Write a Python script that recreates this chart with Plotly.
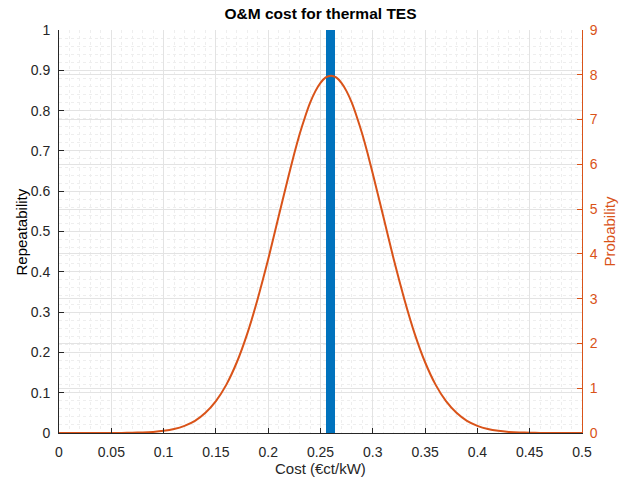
import plotly.graph_objects as go

# Cost grid (€ct/kW) and probability density
cost = [0.00, 0.01, 0.02, 0.03, 0.04, 0.05, 0.06, 0.07, 0.08, 0.09,
        0.10, 0.11, 0.12, 0.13, 0.14, 0.15, 0.16, 0.17, 0.18, 0.19,
        0.20, 0.21, 0.22, 0.225, 0.23, 0.235, 0.24, 0.245, 0.25, 0.255,
        0.26, 0.265, 0.27, 0.275, 0.28, 0.285, 0.29, 0.295, 0.30,
        0.31, 0.32, 0.33, 0.34, 0.35, 0.36, 0.37, 0.38, 0.39,
        0.40, 0.41, 0.42, 0.43, 0.44, 0.45, 0.46, 0.47, 0.48, 0.49, 0.50]
probability = [0.0, 0.0, 0.0001, 0.0002, 0.0005, 0.0012, 0.0027, 0.0058, 0.012, 0.025,
               0.048, 0.089, 0.16, 0.27, 0.45, 0.71, 1.08, 1.58, 2.22, 3.0,
               3.88, 4.84, 5.79, 6.25, 6.67, 7.04, 7.37, 7.63, 7.82, 7.94,
               7.98, 7.94, 7.82, 7.63, 7.37, 7.04, 6.67, 6.25, 5.79,
               4.84, 3.88, 3.0, 2.22, 1.58, 1.08, 0.71, 0.45, 0.27,
               0.16, 0.089, 0.048, 0.025, 0.012, 0.0058, 0.0027, 0.0012, 0.0005, 0.0002, 0.0001]

# Histogram bar (repeatability)
bar_x = [0.2595]
bar_height = [1.0]

x_ticks = [0, 0.05, 0.1, 0.15, 0.2, 0.25, 0.3, 0.35, 0.4, 0.45, 0.5]
x_ticktext = ["0", "0.05", "0.1", "0.15", "0.2", "0.25", "0.3", "0.35", "0.4", "0.45", "0.5"]
y_ticks = [0, 0.1, 0.2, 0.3, 0.4, 0.5, 0.6, 0.7, 0.8, 0.9, 1]
y_ticktext = ["0", "0.1", "0.2", "0.3", "0.4", "0.5", "0.6", "0.7", "0.8", "0.9", "1"]
y2_ticks = [0, 1, 2, 3, 4, 5, 6, 7, 8, 9]

BLUE = "#0072BD"
ORANGE = "#D95319"
DARK = "#262626"
GRID = "#E3E3E3"
MINOR = "#EEEEEE"
FONT = "Liberation Sans, Arial, sans-serif"

L, R, T, B = 59, 48, 30, 44
W, H = 630, 477
pw, ph = W - L - R, H - T - B

fig = go.Figure()
fig.add_trace(go.Bar(x=bar_x, y=bar_height, width=0.008, marker=dict(color=BLUE, line=dict(width=0)),
                     yaxis="y", showlegend=False))
fig.add_trace(go.Scatter(x=cost, y=probability, mode="lines",
                         line=dict(color=ORANGE, width=2, shape="spline", smoothing=0.5),
                         yaxis="y2", showlegend=False))

fig.update_layout(
    width=W, height=H,
    margin=dict(l=L, r=R, t=T, b=B, autoexpand=False),
    paper_bgcolor="white", plot_bgcolor="white",
    font=dict(family=FONT, size=14, color=DARK),
    title=dict(text="<b>O&M cost for thermal TES</b>", x=(L + W - R) / 2 / W, xanchor="center",
               y=1 - 14 / H, yanchor="middle", font=dict(size=15.5, color="black")),
    xaxis=dict(range=[0, 0.5], tickvals=x_ticks, ticktext=x_ticktext, ticks="inside", ticklen=5,
               tickcolor=DARK, showline=True, linecolor=DARK, linewidth=1,
               showgrid=True, gridcolor=GRID, gridwidth=1, zeroline=False, automargin=False,
               ticklabelstandoff=6,
               minor=dict(dtick=0.01, showgrid=True, gridcolor=MINOR, griddash="dot", ticks=""),
               tickfont=dict(size=14, color=DARK)),
    yaxis=dict(range=[0, 1], tickvals=y_ticks, ticktext=y_ticktext, ticks="inside", ticklen=5,
               tickcolor=DARK, showline=True, linecolor=DARK, linewidth=1,
               showgrid=True, gridcolor=GRID, gridwidth=1, zeroline=False, automargin=False,
               ticklabelstandoff=5,
               minor=dict(dtick=0.02, showgrid=True, gridcolor=MINOR, griddash="dot", ticks=""),
               tickfont=dict(size=14, color=DARK)),
    yaxis2=dict(range=[0, 9], tickvals=y2_ticks, overlaying="y", side="right", ticks="inside", ticklen=5,
                tickcolor=ORANGE, showline=True, linecolor=ORANGE, linewidth=1,
                showgrid=True, gridcolor=GRID, gridwidth=1, zeroline=False, automargin=False,
                ticklabelstandoff=4,
                tickfont=dict(size=14, color=ORANGE)),
    bargap=0,
    annotations=[
        dict(text="Cost (€ct/kW)", xref="paper", yref="paper", x=0.5, y=(H - B - 468) / ph,
             xanchor="center", yanchor="middle", showarrow=False, font=dict(size=15, color=DARK)),
        dict(text="Repeatability", xref="paper", yref="paper", x=(21 - L) / pw, y=0.5, textangle=-90,
             xanchor="center", yanchor="middle", showarrow=False, font=dict(size=15, color="black")),
        dict(text="Probability", xref="paper", yref="paper", x=(609 - L) / pw, y=0.5, textangle=-90,
             xanchor="center", yanchor="middle", showarrow=False, font=dict(size=15, color=ORANGE)),
    ],
)

fig.write_html("out.html")
